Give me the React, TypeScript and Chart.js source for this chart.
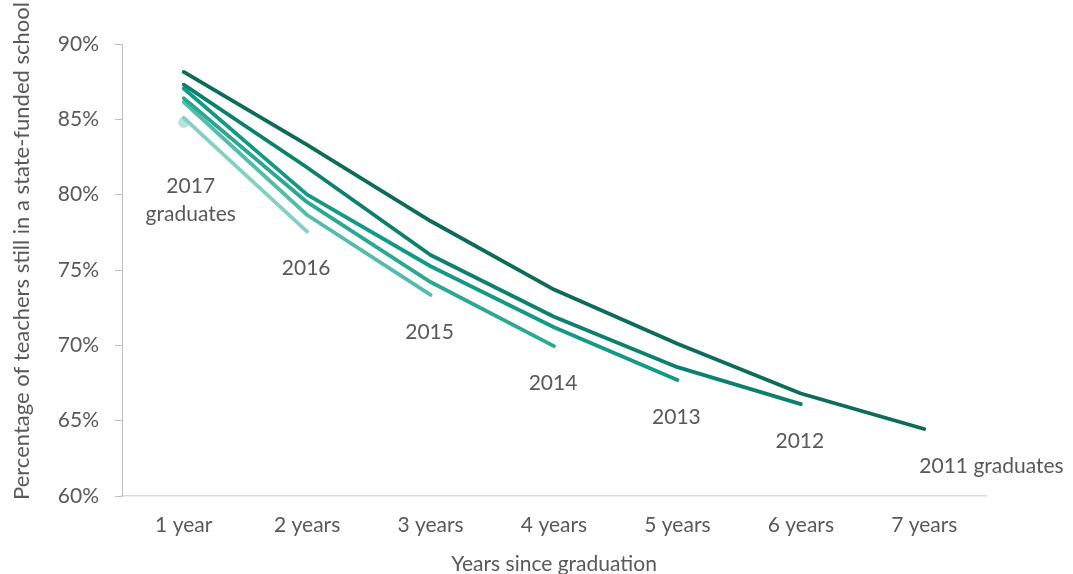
import React, { useEffect, useRef } from "react";
import { Chart, registerables } from "chart.js";

Chart.register(...registerables);

const categories = ["1 year", "2 years", "3 years", "4 years", "5 years", "6 years", "7 years"];
const cohorts = ["2011", "2012", "2013", "2014", "2015", "2016", "2017"];
const endLabels = ["2011 graduates", "2012", "2013", "2014", "2015", "2016", "2017\ngraduates"];
const s2011 = [88.15, 83.3, 78.25, 73.7, 70.1, 66.8, 64.45];
const s2012 = [87.3, 81.8, 76.0, 71.9, 68.55, 66.1, null];
const s2013 = [87.05, 80.0, 75.25, 71.2, 67.7, null, null];
const s2014 = [86.4, 79.5, 74.2, 69.95, null, null, null];
const s2015 = [86.15, 78.65, 73.35, null, null, null, null];
const s2016 = [85.1, 77.55, null, null, null, null, null];
const s2017 = [84.8, null, null, null, null, null, null];
const seriesValues = [s2011, s2012, s2013, s2014, s2015, s2016, s2017];
const colors = ["#0c6b59", "#0b806c", "#129a86", "#2aa891", "#55bcac", "#84d0c4", "#b5e2db"];
const yTicks = [60, 65, 70, 75, 80, 85, 90];

const FONT = "Lato";
const TEXT = "#595959";

const labelPlugin = {
  id: "endLabels",
  afterDatasetsDraw(chart: any) {
    const ctx = chart.ctx;
    ctx.save();
    ctx.fillStyle = TEXT;
    ctx.font = `21px ${FONT}`;
    ctx.textBaseline = "middle";
    chart.data.datasets.forEach((ds: any, i: number) => {
      const meta = chart.getDatasetMeta(i);
      let last = -1;
      ds.data.forEach((v: any, j: number) => {
        if (v !== null) last = j;
      });
      if (last < 0) return;
      const pt = meta.data[last];
      const lines = endLabels[i].split("\n");
      if (i === 0) {
        ctx.textAlign = "left";
        ctx.fillText(lines[0], pt.x - 5, pt.y + 37);
      } else if (lines.length > 1) {
        ctx.textAlign = "center";
        lines.forEach((l: string, k: number) => ctx.fillText(l, pt.x + 7, pt.y + 64 + k * 28));
      } else {
        ctx.textAlign = "center";
        ctx.fillText(lines[0], pt.x - 1, pt.y + 37);
      }
    });
    // axis titles
    const area = chart.chartArea;
    ctx.textAlign = "center";
    ctx.font = `21px ${FONT}`;
    ctx.fillText("Years since graduation", (area.left + area.right) / 2, 564);
    ctx.translate(22, 251);
    ctx.rotate(-Math.PI / 2);
    ctx.font = `22px ${FONT}`;
    ctx.fillText("Percentage of teachers still in a state-funded school", 0, 0);
    ctx.restore();
  },
};

export default function App() {
  const ref = useRef<HTMLCanvasElement>(null);
  useEffect(() => {
    if (!ref.current) return;
    const chart = new Chart(ref.current, {
      type: "line",
      data: {
        labels: categories,
        datasets: seriesValues.map((vals, i) => ({
          label: cohorts[i],
          data: vals,
          borderColor: colors[i],
          backgroundColor: colors[i],
          borderWidth: 3.8,
          borderCapStyle: "round",
          borderJoinStyle: "round",
          pointRadius: i === 6 ? 5.5 : 0,
          pointBorderWidth: 0,
          tension: 0,
          spanGaps: false,
        })),
      },
      options: {
        responsive: false,
        animation: false,
        layout: { padding: { top: 44, right: 87, left: 0, bottom: 0 } },
        plugins: { legend: { display: false }, tooltip: { enabled: false } },
        scales: {
          x: {
            offset: true,
            grid: { display: false },
            border: { display: true, color: "#d9d9d9", width: 1.5 },
            ticks: { color: TEXT, font: { family: FONT, size: 21 }, padding: 9, maxRotation: 0 },
            afterFit: (s: any) => {
              s.height = 78;
              s.paddingLeft = 0;
              s.paddingRight = 0;
            },
          },
          y: {
            min: 60,
            max: 90,
            afterBuildTicks: (s: any) => {
              s.ticks = yTicks.map((v) => ({ value: v }));
            },
            grid: { display: true, drawOnChartArea: false, drawTicks: true, tickLength: 7, color: "#bfbfbf" },
            border: { display: true, color: "#bfbfbf", width: 1 },
            ticks: {
              color: TEXT,
              font: { family: FONT, size: 21 },
              padding: 16,
              callback: (v: any) => `${v}%`,
            },
            afterFit: (s: any) => {
              s.width = 122;
              s.paddingTop = 0;
              s.paddingBottom = 0;
            },
          },
        },
      },
      plugins: [labelPlugin],
    });
    return () => chart.destroy();
  }, []);
  return (
    <div style={{ position: "absolute", left: 0, top: 0, width: 1073, height: 574, background: "#fff" }}>
      <canvas ref={ref} width={1073} height={574} style={{ display: "block" }} />
    </div>
  );
}
